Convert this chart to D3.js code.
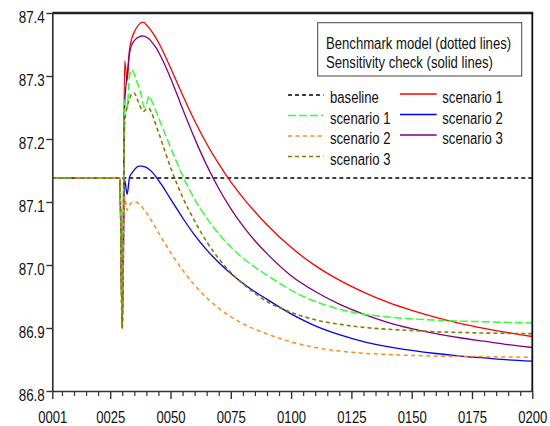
<!DOCTYPE html>
<html>
<head>
<meta charset="utf-8">
<script src="https://cdn.jsdelivr.net/npm/d3@7/dist/d3.min.js"></script>
<style>
  html, body { margin: 0; padding: 0; background: #fff; }
  svg { display: block; }
  text { font-family: "Liberation Sans", Arial, sans-serif; fill: #111; }
</style>
</head>
<body>
<svg id="chart" width="550" height="426"></svg>
<script>
// ---- data ----
const periods = [1, 29, 30, 31, 32, 33, 34, 35, 36, 37, 38, 39, 40, 41, 42, 44, 46, 50, 55, 60, 65, 70, 75, 80, 85, 90, 100, 110, 120, 130, 140, 150, 160, 170, 180, 190, 200];

const baselineValues = periods.map(() => 87.138);

const benchScenario1 = [87.138, 87.138, 86.900, 87.262, 87.248, 87.300, 87.310, 87.303, 87.292, 87.281, 87.268, 87.250, 87.254, 87.268, 87.262, 87.244, 87.225, 87.187, 87.142, 87.1045, 87.0745, 87.0495, 87.0285, 87.011, 86.9965, 86.984, 86.960, 86.942, 86.930, 86.922, 86.9175, 86.9145, 86.9125, 86.911, 86.910, 86.909, 86.908];
const benchScenario2 = [87.138, 87.138, 86.900, 87.108, 87.087, 87.095, 87.099, 87.100, 87.0995, 87.097, 87.093, 87.088, 87.083, 87.077, 87.071, 87.058, 87.045, 87.020, 86.992, 86.968, 86.948, 86.9315, 86.918, 86.907, 86.898, 86.8905, 86.878, 86.869, 86.8635, 86.860, 86.858, 86.8565, 86.8555, 86.855, 86.8545, 86.854, 86.8535];
const benchScenario3 = [87.138, 87.138, 86.900, 87.225, 87.251, 87.263, 87.272, 87.273, 87.265, 87.256, 87.247, 87.244, 87.248, 87.249, 87.243, 87.222, 87.200, 87.155, 87.108, 87.070, 87.037, 87.010, 86.988, 86.970, 86.955, 86.942, 86.925, 86.913, 86.906, 86.901, 86.898, 86.896, 86.894, 86.893, 86.892, 86.8915, 86.891];

const sensScenario1 = [87.138, 87.138, 86.900, 87.324, 87.292, 87.342, 87.360, 87.370, 87.377, 87.382, 87.385, 87.385, 87.381, 87.377, 87.372, 87.360, 87.346, 87.313, 87.270, 87.229, 87.1925, 87.1605, 87.132, 87.107, 87.0845, 87.064, 87.028, 86.999, 86.976, 86.957, 86.941, 86.928, 86.917, 86.9075, 86.8995, 86.8925, 86.8865];
const sensScenario2 = [87.138, 87.138, 86.900, 87.135, 87.112, 87.139, 87.146, 87.151, 87.155, 87.157, 87.157, 87.156, 87.155, 87.152, 87.149, 87.140, 87.129, 87.105, 87.075, 87.0475, 87.024, 87.004, 86.9865, 86.971, 86.9575, 86.9455, 86.9225, 86.9035, 86.8895, 86.8785, 86.8705, 86.8645, 86.8595, 86.8555, 86.8525, 86.8495, 86.8475];
const sensScenario3 = [87.138, 87.138, 86.900, 87.255, 87.300, 87.336, 87.350, 87.356, 87.360, 87.362, 87.3635, 87.3633, 87.3615, 87.359, 87.355, 87.345, 87.331, 87.297, 87.248, 87.201, 87.1585, 87.1215, 87.0895, 87.062, 87.0385, 87.018, 86.983, 86.958, 86.938, 86.922, 86.909, 86.899, 86.891, 86.8845, 86.879, 86.8735, 86.869];

const xTickValues = [1, 25, 50, 75, 100, 125, 150, 175, 200];
const yTickValues = [86.8, 86.9, 87.0, 87.1, 87.2, 87.3, 87.4];
const legendBoxLines = ["Benchmark model (dotted lines)", "Sensitivity check (solid lines)"];
const legendLeftLabels = ["baseline", "scenario 1", "scenario 2", "scenario 3"];
const legendRightLabels = ["scenario 1", "scenario 2", "scenario 3"];

// ---- chart ----
const svg = d3.select("#chart");
const L = 52.3, R = 532.3, T = 13, B = 391;
const x = d3.scaleLinear().domain([1, 200]).range([L, R]);
const y = d3.scaleLinear().domain([86.8, 87.4]).range([B, T]);

// narrow (condensed) look for the text: horizontal scale about the anchor x
function narrow(sel, f) {
  sel.each(function () {
    const ax = +(this.getAttribute("x") || 0);
    d3.select(this).attr("transform", `translate(${ax},0) scale(${f},1) translate(${-ax},0)`);
  });
}

const series = [
  { vals: baselineValues, color: "#000000", dash: "4,3", w: 1.5 },
  { vals: sensScenario1, color: "#ff0000", dash: null, w: 1.3 },
  { vals: sensScenario2, color: "#0000ff", dash: null, w: 1.3 },
  { vals: sensScenario3, color: "#800080", dash: null, w: 1.3 },
  { vals: benchScenario1, color: "#33ff33", dash: "8,3", w: 1.5 },
  { vals: benchScenario2, color: "#ff8c1a", dash: "4,3.5", w: 1.5 },
  { vals: benchScenario3, color: "#808000", dash: "4,3", w: 1.6 }
];

svg.append("defs").append("clipPath").attr("id", "plotclip")
  .append("rect").attr("x", L).attr("y", T - 2).attr("width", R - L).attr("height", B - T + 2);

const line = d3.line()
  .x((d, i) => x(periods[i]))
  .y(d => y(d))
  .curve(d3.curveMonotoneX);

const g = svg.append("g").attr("clip-path", "url(#plotclip)");
series.forEach(s => {
  g.append("path")
    .attr("d", line(s.vals))
    .attr("fill", "none")
    .attr("stroke", s.color)
    .attr("stroke-width", s.w)
    .attr("stroke-dasharray", s.dash);
});

// frame top/right
svg.append("line").attr("x1", L).attr("x2", R + 1).attr("y1", T).attr("y2", T)
  .attr("stroke", "#222").attr("stroke-width", 2.3);
svg.append("line").attr("x1", R).attr("x2", R).attr("y1", T).attr("y2", B)
  .attr("stroke", "#111").attr("stroke-width", 1.8);

// y axis
const yAxis = d3.axisLeft(y).tickValues(yTickValues).tickFormat(d3.format(".1f"))
  .tickSize(6).tickSizeOuter(0).tickPadding(1.5);
const ya = svg.append("g").attr("transform", `translate(${L},0)`).call(yAxis);
ya.attr("font-family", null).attr("font-size", null);
ya.select(".domain").attr("stroke", "#333").attr("stroke-width", 1.7);
ya.selectAll(".tick line").attr("stroke", "#333").attr("stroke-width", 1.4);
ya.selectAll(".tick text").attr("font-size", 17).attr("dy", "0.56em").attr("fill", "#111");

// x axis minor ticks
const minor = d3.range(5, 201, 5).filter(v => !xTickValues.includes(v));
const xMinor = d3.axisBottom(x).tickValues(minor).tickSize(5).tickFormat("").tickSizeOuter(0);
const xm = svg.append("g").attr("transform", `translate(0,${B})`).call(xMinor);
xm.select(".domain").remove();
xm.selectAll(".tick line").attr("stroke", "#333").attr("stroke-width", 1.2);

const xAxis = d3.axisBottom(x).tickValues(xTickValues).tickFormat(d3.format("04d"))
  .tickSize(8).tickSizeOuter(0).tickPadding(11.6);
const xa = svg.append("g").attr("transform", `translate(0,${B})`).call(xAxis);
xa.attr("font-family", null).attr("font-size", null);
xa.select(".domain").attr("stroke", "#333").attr("stroke-width", 1.7);
xa.selectAll(".tick line").attr("stroke", "#333").attr("stroke-width", 1.4);
xa.selectAll(".tick text").attr("font-size", 17).attr("fill", "#111");

narrow(ya.selectAll(".tick text"), 0.79);
narrow(xa.selectAll(".tick text"), 0.77);

// legend box
svg.append("rect").attr("x", 317.7).attr("y", 22.7).attr("width", 204).attr("height", 53.3)
  .attr("fill", "#fff").attr("stroke", "#444").attr("stroke-width", 1);
legendBoxLines.forEach((t, i) => {
  svg.append("text").attr("class", "lg").attr("x", 326).attr("y", 49.5 + i * 19)
    .attr("font-size", 16).text(t);
});

// legend entries
const leftStyles = [series[0], series[4], series[5], series[6]];
const rightStyles = [series[1], series[2], series[3]];
const rowY = [95, 115.5, 136, 156.5];
legendLeftLabels.forEach((t, i) => {
  const s = leftStyles[i];
  svg.append("line").attr("x1", 288).attr("x2", 323.5).attr("y1", rowY[i]).attr("y2", rowY[i])
    .attr("stroke", s.color).attr("stroke-width", s.w).attr("stroke-dasharray", s.dash);
  svg.append("text").attr("class", "lg").attr("x", 330).attr("y", rowY[i] + 8.3)
    .attr("font-size", 16).text(t);
});
legendRightLabels.forEach((t, i) => {
  const s = rightStyles[i];
  svg.append("line").attr("x1", 400).attr("x2", 436.7).attr("y1", rowY[i] - 1).attr("y2", rowY[i] - 1)
    .attr("stroke", s.color).attr("stroke-width", 1.5);
  svg.append("text").attr("class", "lg").attr("x", 442.3).attr("y", rowY[i] + 8.3)
    .attr("font-size", 16).text(t);
});
narrow(svg.selectAll("text.lg"), 0.82);
</script>
</body>
</html>
